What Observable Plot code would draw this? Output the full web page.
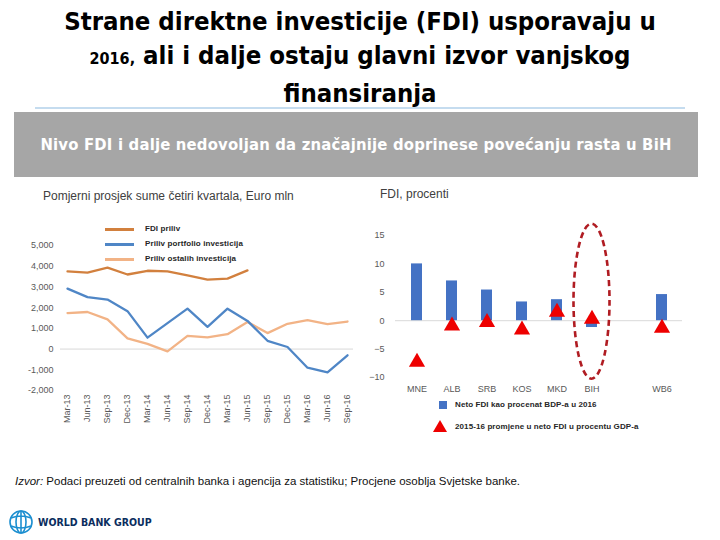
<!DOCTYPE html>
<html><head><meta charset="utf-8">
<script src="https://cdn.jsdelivr.net/npm/d3@7"></script>
<script src="https://cdn.jsdelivr.net/npm/@observablehq/plot@0.6"></script>
<style>
body{margin:0;width:720px;height:540px;position:relative;background:#fff;overflow:hidden;font-family:Arial,"Liberation Sans",sans-serif}
.abs{position:absolute}
#title{left:0;top:4px;width:720px;text-align:center;font-family:"DejaVu Sans";font-weight:bold;font-stretch:condensed;font-size:25.5px;line-height:34px;color:#000}
#title .small{font-size:16px;font-weight:bold}
#rule{left:35px;top:107px;width:650px;height:2px;background:#c5dcef}
#band{left:14px;top:112px;width:684px;height:65px;background:#a6a6a6;color:#fff;font-family:"DejaVu Sans";font-stretch:condensed;font-size:16.5px;line-height:65px;text-align:center;font-weight:bold;letter-spacing:0.2px}
.sub{font-size:12px;color:#404040;white-space:nowrap}
.leg{font-size:8px;color:#262626;white-space:nowrap;letter-spacing:0.1px;font-weight:bold}
.legline{height:3px;width:29px}
#source{left:15px;top:475px;font-size:11.5px;color:#111;white-space:nowrap;letter-spacing:0px}
#logo{left:8px;top:508px}
</style></head><body>
<div id="title" class="abs">Strane direktne investicije (FDI) usporavaju u<br><span class="small">2016,</span> ali i dalje ostaju glavni izvor vanjskog<br>finansiranja</div>
<div id="rule" class="abs"></div>
<div id="band" class="abs">Nivo FDI i dalje nedovoljan da značajnije doprinese povećanju rasta u BiH</div>
<div class="abs sub" style="left:43px;top:189px">Pomjerni prosjek sume četiri kvartala, Euro mln</div>
<div class="abs sub" style="left:380px;top:187px">FDI, procenti</div>
<div id="leftChart" class="abs" style="left:0;top:220px"></div>
<div id="rightChart" class="abs" style="left:360px;top:220px"></div>
<div id="leftLegend"></div>
<div id="rightLegend"></div>
<div id="source" class="abs"><i>Izvor:</i> Podaci preuzeti od centralnih banka i agencija za statistiku; Procjene osoblja Svjetske banke.</div>
<div id="logo" class="abs">
<svg width="150" height="28" viewBox="0 0 150 28">
  <g fill="none" stroke="#1d8fd0" stroke-width="1.6">
    <circle cx="13" cy="14" r="11"/>
    <ellipse cx="13" cy="14" rx="5" ry="11"/>
    <path d="M3 10 Q13 6 23 10 M3 18 Q13 22 23 18 M13 3 L13 25"/>
  </g>
  <text x="30" y="18" font-family="'DejaVu Sans'" font-stretch="condensed" font-weight="bold" font-size="10.5" fill="#0b2d5e">WORLD BANK GROUP</text>
</svg>
</div>
<script>
// ---- Left chart data ----
const quarters = ["Mar-13","Jun-13","Sep-13","Dec-13","Mar-14","Jun-14","Sep-14","Dec-14","Mar-15","Jun-15","Sep-15","Dec-15","Mar-16","Jun-16","Sep-16"];
const fdiInflow = [3750,3690,3930,3600,3780,3750,3560,3350,3400,3800,null,null,null,null,null];
const portfolioInflow = [2920,2510,2390,1830,550,1250,1950,1070,1950,1360,400,100,-900,-1120,-300];
const otherInflow = [1740,1790,1430,520,250,-110,640,560,720,1310,770,1220,1400,1200,1330];
const leftSeriesNames = ["FDI priliv","Priliv portfolio investicija","Priliv ostalih investicija"];
const leftTicks = [-2000,-1000,0,1000,2000,3000,4000,5000];

// ---- Right chart data ----
const countries = ["MNE","ALB","SRB","KOS","MKD","BIH"," ","WB6"];
const fdiShare2016 = [10.0,7.0,5.4,3.3,3.7,-1.2,null,4.6];
const fdiChange = [-7.3,-0.9,-0.3,-1.6,1.5,0.3,null,-1.3];
const rightTicks = [-10,-5,0,5,10,15];
const rightSeriesNames = ["Neto FDI kao procenat BDP-a u 2016","2015-16 promjene u neto FDI u procentu GDP-a"];

const colors = {fdi:"#d2803e", portfolio:"#4f86c6", other:"#f2b386", bar:"#4472c4", tri:"#ee0000", ellipse:"#b01c22"};

const toRows = arr => quarters.map((q,i)=>({q, v:arr[i]}));
const fmt = d => d3.format(",")(d).replace("\u2212","-");

const left = Plot.plot({
  width:360, height:215, marginLeft:60, marginRight:7, marginTop:25, marginBottom:45,
  style:{fontFamily:"Arial, 'Liberation Sans', sans-serif", fontSize:"9px", color:"#595959", background:"transparent"},
  x:{type:"point", domain:quarters, padding:0.3, label:null, tickRotate:-90, tickSize:0, tickPadding:4},
  y:{domain:[-2000,5000], ticks:leftTicks, tickFormat:fmt, label:null, tickSize:0, tickPadding:7},
  marks:[
    Plot.ruleY([0],{stroke:"#d9d9d9"}),
    Plot.line(toRows(otherInflow),{x:"q", y:"v", stroke:colors.other, strokeWidth:2.3}),
    Plot.line(toRows(portfolioInflow),{x:"q", y:"v", stroke:colors.portfolio, strokeWidth:2.3}),
    Plot.line(toRows(fdiInflow),{x:"q", y:"v", stroke:colors.fdi, strokeWidth:2.3, defined:d=>d.v!=null})
  ]
});
document.getElementById("leftChart").appendChild(left);

const rows = countries.map((c,i)=>({c, fdi:fdiShare2016[i], chg:fdiChange[i]})).filter(d=>d.fdi!=null);

const ellipseMark = (index, scales) => {
  const bw = typeof scales.x.bandwidth === "function" ? scales.x.bandwidth() : scales.x.bandwidth;
  const cx = scales.x("BIH") + bw/2;
  const y1 = scales.y(17), y2 = scales.y(-10.3);
  const cy = (y1+y2)/2, ry = (y2-y1)/2, rx = 18;
  const p = d3.create("svg:path")
    .attr("d", `M${cx-rx},${cy}A${rx},${ry} 0 1,0 ${cx+rx},${cy}A${rx},${ry} 0 1,0 ${cx-rx},${cy}Z`)
    .attr("fill","none").attr("stroke",colors.ellipse).attr("stroke-width",2.6).attr("stroke-dasharray","6,4");
  return p.node();
};

const right = Plot.plot({
  width:360, height:180, marginLeft:35, marginRight:38, marginTop:15, marginBottom:23,
  style:{fontFamily:"Arial, 'Liberation Sans', sans-serif", fontSize:"9px", color:"#595959", background:"transparent"},
  x:{type:"band", domain:countries, paddingInner:0.69, paddingOuter:0.345, label:null, tickSize:0, tickPadding:8},
  y:{domain:[-10,15], ticks:rightTicks, label:null, tickSize:0, tickPadding:11},
  marks:[
    Plot.ruleY([0],{stroke:"#d9d9d9"}),
    Plot.barY(rows,{x:"c", y:"fdi", fill:colors.bar}),
    Plot.dot(rows,{x:"c", y:"chg", symbol:"triangle", r:6, fill:colors.tri}),
    ellipseMark
  ]
});
document.getElementById("rightChart").appendChild(right);

// Legends (HTML)
const ll = document.getElementById("leftLegend");
[[leftSeriesNames[0],colors.fdi,229],[leftSeriesNames[1],colors.portfolio,244],[leftSeriesNames[2],colors.other,259]].forEach(([t,c,y])=>{
  ll.insertAdjacentHTML("beforeend",
    `<div class="abs legline" style="left:105px;top:${y-1.5}px;background:${c}"></div><div class="abs leg" style="left:145px;top:${y-5}px">${t}</div>`);
});
const rl = document.getElementById("rightLegend");
rl.insertAdjacentHTML("beforeend",
  `<div class="abs" style="left:439px;top:401px;width:8px;height:8px;background:${colors.bar}"></div>
   <div class="abs leg" style="left:455px;top:400px">${rightSeriesNames[0]}</div>
   <svg class="abs" style="left:433px;top:420px" width="14" height="13"><path d="M7 0 L14 12 L0 12 Z" fill="${colors.tri}"/></svg>
   <div class="abs leg" style="left:455px;top:422px">${rightSeriesNames[1]}</div>`);
</script>
</body></html>
